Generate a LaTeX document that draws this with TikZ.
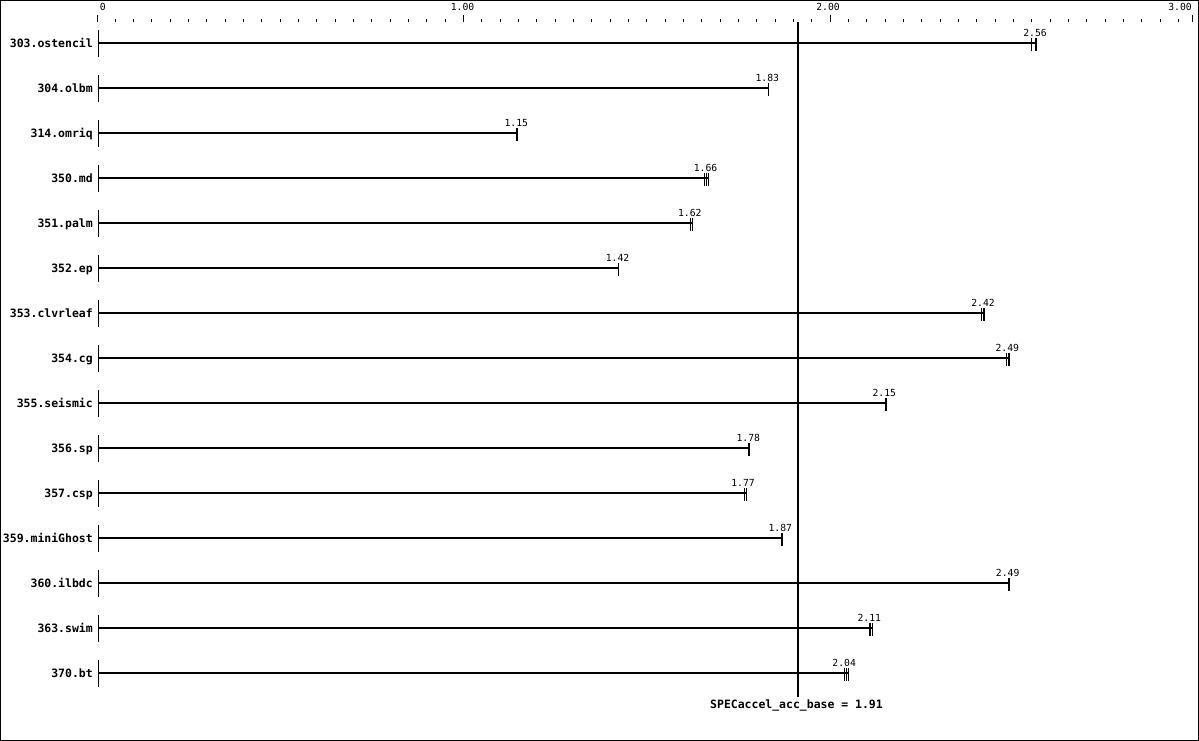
\documentclass[tikz,border=0pt]{standalone}
\usepackage{fontspec}
\setmonofont{DejaVu Sans Mono}
\tikzset{
  frame/.style={draw=black,line width=0.75pt},
  axisline/.style={draw=black,line width=0.75pt},
  barline/.style={draw=black,line width=1.5pt},
  thintk/.style={draw=black,line width=0.75pt},
  thicktk/.style={draw=black,line width=1.5pt},
  refline/.style={draw=black,line width=1.5pt},
  namelab/.style={inner sep=0pt,anchor=base east,font=\ttfamily\bfseries\fontsize{8.6}{10}\selectfont},
  vallab/.style={inner sep=0pt,anchor=base,font=\ttfamily\fontsize{7.3}{8}\selectfont},
  axlab/.style={inner sep=0pt,font=\ttfamily\fontsize{7.3}{8}\selectfont},
  reflab/.style={inner sep=0pt,anchor=base,font=\ttfamily\bfseries\fontsize{8.6}{10}\selectfont},
}
\newcommand\brow[6]{% #1 id, #2 y, #3 name, #4 bar end x, #5 label x, #6 value
  \draw[axisline] (98,#2-13.5) -- (98,#2+13.5);
  \draw[barline] (98,#2) -- (#4,#2);
  \node[namelab] (name#1) at (93,#2+4) {#3};
  \node[vallab] (val#1) at (#5,#2-7) {#6};
}
\newcommand\thintick[2]{\draw[thintk] (#1,#2-5.5) -- (#1,#2+8);}
\newcommand\thicktick[2]{\draw[thicktk] (#1,#2-5.5) -- (#1,#2+8);}
\begin{document}
\begin{tikzpicture}[x=0.75pt,y=-0.75pt]
\useasboundingbox (0,0) rectangle (1199,741);
\draw[frame] (0.5,0.5) rectangle (1198.5,740.5);
% axis ticks
\foreach \i in {1,...,59}{
  \pgfmathtruncatemacro{\m}{mod(\i,20)}
  \ifnum\m=0\relax\else
    \draw[thintk] (97+18.33*\i,19) -- (97+18.33*\i,22);
  \fi
}
\draw[thintk] (97.5,15) -- (97.5,22);
\draw[thintk] (463.6,15) -- (463.6,22);
\draw[thintk] (830.2,15) -- (830.2,22);
\draw[thintk] (1192,15) -- (1192,22);
\node[axlab,anchor=base west] (ax0) at (99.5,10.5) {0};
\node[axlab,anchor=base] (ax1) at (462.5,10.5) {1.00};
\node[axlab,anchor=base] (ax2) at (828,10.5) {2.00};
\node[axlab,anchor=base east] (ax3) at (1192,10.5) {3.00};
% reference line
\draw[refline] (798,22) -- (798,697);
\node[reflab] (ref) at (796.5,708.3) {SPECaccel\_acc\_base = 1.91};
% rows
\brow{a}{43.3}{303.ostencil}{1036}{1035}{2.56}
\thintick{1031}{43.3}\thicktick{1036}{43.3}
\brow{b}{88.3}{304.olbm}{768}{767.3}{1.83}
\thintick{768}{88.3}
\brow{c}{133.3}{314.omriq}{517}{516.3}{1.15}
\thicktick{517}{133.3}
\brow{d}{178.3}{350.md}{708}{705.5}{1.66}
\thintick{704}{178.3}\thintick{706}{178.3}\thintick{708}{178.3}
\brow{e}{223.3}{351.palm}{692}{689.8}{1.62}
\thintick{690}{223.3}\thintick{692}{223.3}
\brow{f}{268.3}{352.ep}{618}{617.5}{1.42}
\thintick{618}{268.3}
\brow{g}{313.3}{353.clvrleaf}{984.5}{983}{2.42}
\thintick{981}{313.3}\thicktick{984.3}{313.3}
\brow{h}{358.3}{354.cg}{1008.5}{1007.3}{2.49}
\thintick{1006}{358.3}\thicktick{1008.7}{358.3}
\brow{i}{403.3}{355.seismic}{886}{884.3}{2.15}
\thicktick{886}{403.3}
\brow{j}{448.3}{356.sp}{749}{748.3}{1.78}
\thicktick{749}{448.3}
\brow{k}{493.3}{357.csp}{746}{743}{1.77}
\thintick{744}{493.3}\thintick{746}{493.3}
\brow{l}{538.3}{359.miniGhost}{782}{780.3}{1.87}
\thicktick{782}{538.3}
\brow{m}{583.3}{360.ilbdc}{1009}{1007.7}{2.49}
\thicktick{1009}{583.3}
\brow{n}{628.3}{363.swim}{872.5}{869.3}{2.11}
\thicktick{870}{628.3}\thintick{872.5}{628.3}
\brow{o}{673.3}{370.bt}{848}{844.2}{2.04}
\thintick{844}{673.3}\thintick{846}{673.3}\thintick{848}{673.3}
\end{tikzpicture}
\end{document}
